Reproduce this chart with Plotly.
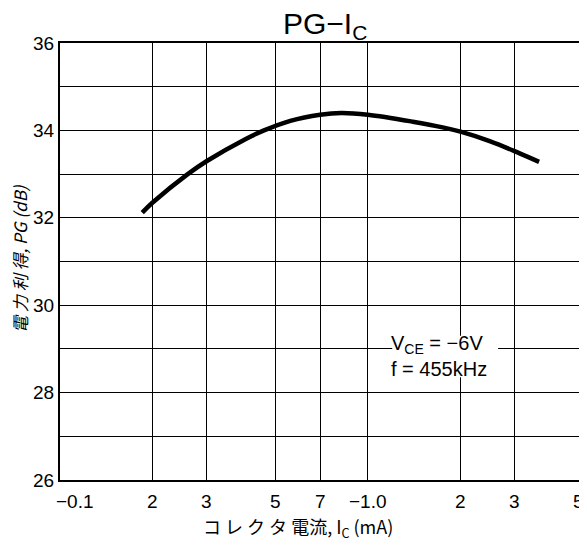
import math
import plotly.graph_objects as go

# Data
ic_ma = [0.185, 0.2, 0.26, 0.3, 0.4, 0.46, 0.56, 0.7, 0.82, 1.0, 1.4, 1.75, 2.0, 2.5, 3.1, 3.6]
pg_db = [32.12, 32.35, 33.0, 33.3, 33.8, 34.0, 34.22, 34.36, 34.4, 34.36, 34.2, 34.07, 33.97, 33.75, 33.48, 33.28]

x_tickvals = [0.1, 0.2, 0.3, 0.5, 0.7, 1.0, 2, 3, 5]
x_ticktext = ["\u22120.1", "2", "3", "5", "7", "\u22121.0", "2", "3", "5"]
y_tickvals = [26, 27, 28, 29, 30, 31, 32, 33, 34, 35, 36]
y_ticktext = ["26", "", "28", "", "30", "", "32", "", "34", "", "36"]

FONT = "Liberation Sans"
CJK = "Noto Sans CJK JP"

fig = go.Figure()
fig.add_trace(go.Scatter(
    x=ic_ma, y=pg_db, mode="lines",
    line=dict(color="black", width=4.5, shape="spline", smoothing=1.0),
    showlegend=False, hoverinfo="skip",
))

fig.update_layout(
    width=587, height=549,
    margin=dict(l=52, r=12, t=35, b=77),
    paper_bgcolor="white", plot_bgcolor="white",
    font=dict(family=FONT, color="black"),
    showlegend=False,
)

fig.update_xaxes(
    type="log", range=[-1, math.log10(5)],
    tickvals=x_tickvals, showticklabels=False,
    showgrid=True, gridcolor="black", gridwidth=1.3,
    showline=True, linecolor="black", linewidth=2, mirror=True,
    zeroline=False, automargin=False,
)
fig.update_yaxes(
    range=[26, 36],
    tickvals=y_tickvals, ticktext=y_ticktext,
    tickfont=dict(size=19, family=FONT, color="black"),
    ticks="", ticklen=0,
    showgrid=True, gridcolor="black", gridwidth=1.3,
    showline=True, linecolor="black", linewidth=2, mirror=True,
    zeroline=False, automargin=False,
)

# x tick labels placed on the axis values
for i, (v, t) in enumerate(zip(x_tickvals, x_ticktext)):
    if i == 0:
        xa, xs = "center", 15
    elif i == len(x_tickvals) - 1:
        xa, xs = "right", 3
    else:
        xa, xs = "center", 0
    fig.add_annotation(
        xref="x", yref="paper", x=math.log10(v), y=0,
        xanchor=xa, yanchor="middle",
        xshift=xs, yshift=-21, text=t, showarrow=False,
        font=dict(size=19, family=FONT, color="black"),
    )

# axis titles
fig.add_annotation(
    xref="paper", yref="paper", x=0.455, y=0, yanchor="middle", yshift=-47,
    text="コ レ ク タ 電流, I<sub>C</sub> (mA)", showarrow=False,
    font=dict(size=18, family=CJK, color="black"),
)
fig.add_annotation(
    xref="paper", yref="paper", x=0, y=0.506, xanchor="center", yanchor="middle",
    xshift=-40, textangle=-90,
    text="<i>電 力 利 得, PG (dB)</i>", showarrow=False,
    font=dict(size=17, family=CJK, color="#000000"),
)

# white box behind the condition text
fig.add_shape(type="rect", xref="x", yref="y",
              x0=1.2, x1=2.65, y0=28.35, y1=29.3,
              fillcolor="white", line=dict(width=0), layer="above")

fig.add_annotation(
    xref="x", yref="y", x=math.log10(1.7), y=28.83,
    xanchor="center", yanchor="middle",
    text="V<sub>CE</sub> = \u22126V<br>f = 455kHz",
    showarrow=False, align="left",
    font=dict(size=20, family=FONT, color="black"),
)

fig.add_annotation(
    xref="paper", yref="paper", x=0.507, y=1.0, yshift=18,
    xanchor="center", yanchor="middle",
    text="PG\u2212I<sub>C</sub>", showarrow=False,
    font=dict(size=30, family=FONT, color="black"),
)

fig.write_html("out.html")
